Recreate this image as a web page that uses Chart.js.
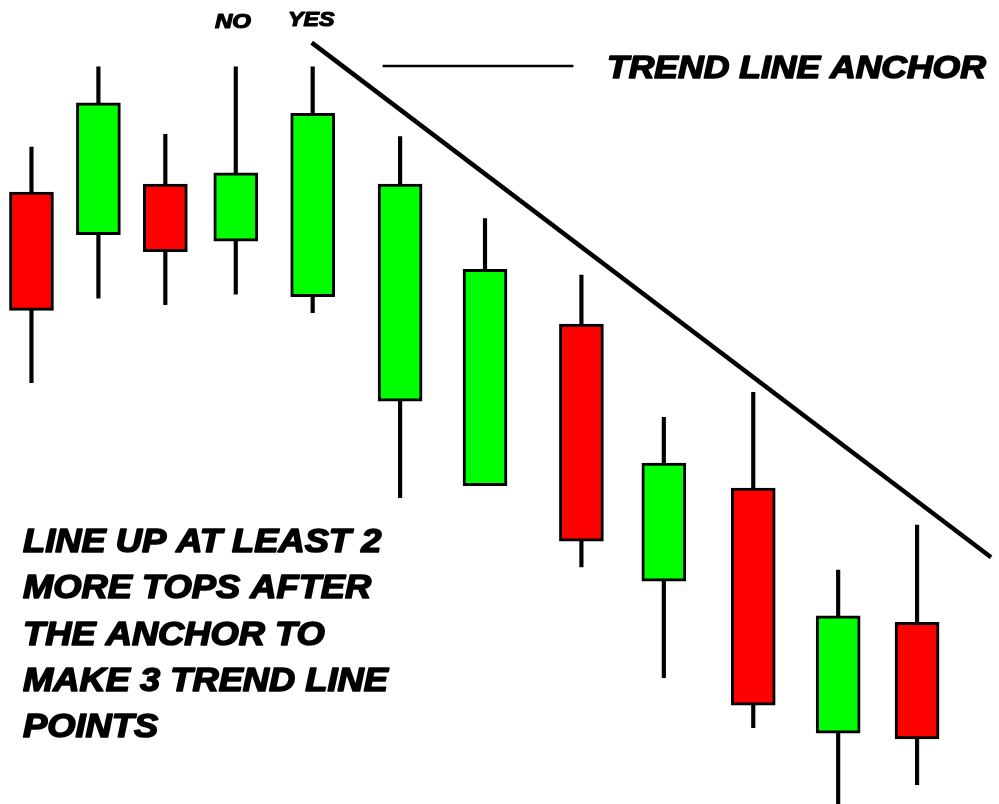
<!DOCTYPE html>
<html>
<head>
<meta charset="utf-8">
<script src="https://cdn.jsdelivr.net/npm/chart.js@4"></script>
<style>
  html, body { margin: 0; padding: 0; background: #ffffff; }
  #wrap { width: 999px; height: 804px; position: relative; }
</style>
</head>
<body>
<div id="wrap"><canvas id="c"></canvas></div>
<script>
// ---- data (time in arbitrary session units, prices in arbitrary units) ----
const sessions = [3.15, 9.85, 16.55, 23.6, 31.3, 40.05, 48.55, 58.2, 66.45, 75.4, 83.9, 91.8];
const opens  = [76.1, 70.8, 77.1, 70.0, 63.1, 50.1, 39.6, 59.7, 27.7, 39.3,  8.8, 22.6];
const highs  = [81.7, 91.7, 83.3, 91.7, 91.7, 83.0, 72.8, 65.8, 48.1, 51.2, 29.1, 34.7];
const lows   = [52.4, 62.9, 62.1, 63.4, 61.1, 38.1, 39.6, 29.5, 15.7,  9.5, -1.5,  2.4];
const closes = [61.4, 87.2, 68.7, 78.5, 85.9, 77.1, 66.5, 32.7, 42.4, 12.3, 23.4,  8.1];
const trendLineX = [31.2, 99.2];
const trendLineY = [94.7, 30.7];
const anchorPointerX = [38.3, 57.4];
const anchorPointerY = [91.8, 91.8];
const topLabels = ["NO", "YES"];
const anchorLabel = "TREND LINE ANCHOR";
const noteLines = ["LINE UP AT LEAST 2", "MORE TOPS AFTER", "THE ANCHOR TO", "MAKE 3 TREND LINE", "POINTS"];

const UP = "#00ff00", DOWN = "#ff0000";

const wickData = sessions.map((x, i) => ({ x: x, y: [lows[i], highs[i]] }));
const bodyData = sessions.map((x, i) => ({ x: x, y: [opens[i], closes[i]] }));
const bodyColors = sessions.map((x, i) => closes[i] >= opens[i] ? UP : DOWN);

const textPlugin = {
  id: 'notes',
  afterDraw(chart) {
    const ctx = chart.ctx;
    function txt(s, x, y, size, sx, lw) {
      ctx.save();
      ctx.font = "italic bold " + size + "px 'Liberation Sans', Arial, sans-serif";
      ctx.fillStyle = "#000";
      ctx.strokeStyle = "#000";
      ctx.lineWidth = lw;
      ctx.lineJoin = "round";
      ctx.textBaseline = "alphabetic";
      ctx.textAlign = "left";
      ctx.translate(x, y);
      ctx.scale(sx, 1);
      ctx.fillText(s, 0, 0);
      ctx.strokeText(s, 0, 0);
      ctx.restore();
    }
    txt(topLabels[0], 215, 28, 20, 1.2, 1.2);
    txt(topLabels[1], 288, 26, 20, 1.16, 1.2);
    txt(anchorLabel, 607, 78, 32, 1.11, 1.6);
    noteLines.forEach((s, i) => txt(s, 23, 552 + i * 46.3, 33, 1.1, 1.6));
  }
};

new Chart(document.getElementById('c'), {
  type: 'bar',
  data: {
    datasets: [
      {
        type: 'line',
        data: trendLineX.map((x, i) => ({ x: x, y: trendLineY[i] })),
        borderColor: '#000', borderWidth: 4.5, pointRadius: 0, order: 0, clip: false
      },
      {
        type: 'line',
        data: anchorPointerX.map((x, i) => ({ x: x, y: anchorPointerY[i] })),
        borderColor: '#000', borderWidth: 2.5, pointRadius: 0, order: 0
      },
      {
        data: bodyData,
        backgroundColor: bodyColors,
        borderColor: '#000', borderWidth: 3, borderSkipped: false,
        barThickness: 44, order: 1
      },
      {
        data: wickData,
        backgroundColor: '#000', borderWidth: 0,
        barThickness: 3.5, order: 2
      }
    ]
  },
  options: {
    responsive: true,
    maintainAspectRatio: false,
    animation: false,
    grouped: false,
    layout: { padding: 0 },
    plugins: { legend: { display: false }, tooltip: { enabled: false } },
    scales: {
      x: { type: 'linear', min: 0, max: 100, offset: false, display: false },
      y: { type: 'linear', min: 0, max: 100, display: false }
    }
  },
  plugins: [textPlugin]
});
</script>
</body>
</html>
